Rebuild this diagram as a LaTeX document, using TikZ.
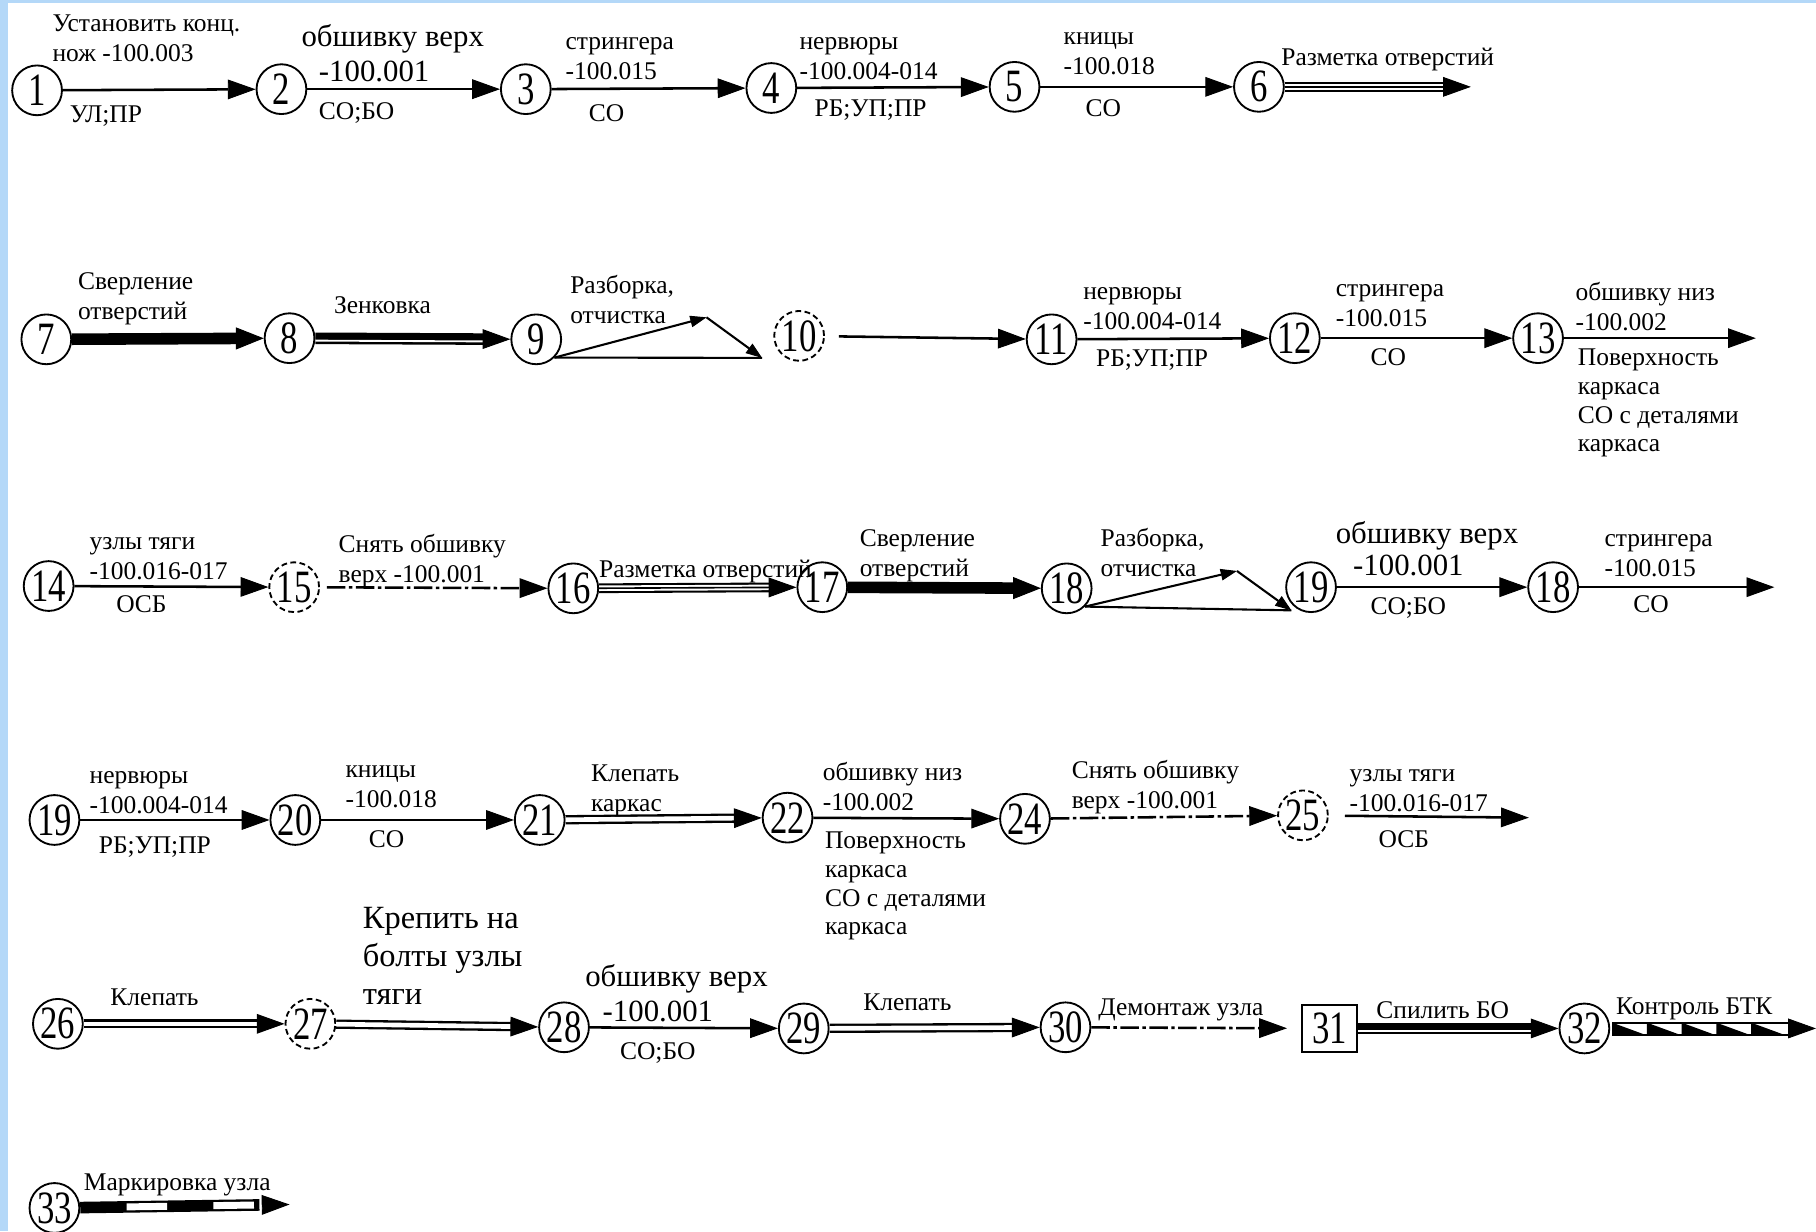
\documentclass[tikz,border=0pt]{standalone}
\usepackage{fontspec}
\setmainfont{Liberation Serif}
\newfontfamily\numfont[FakeStretch=0.75]{Liberation Serif}
\usetikzlibrary{arrows.meta, positioning}

\definecolor{edgeblue}{RGB}{180,216,248}

\tikzset{
  ev/.style={circle, draw, line width=0.8pt, minimum size=21.5pt, inner sep=0pt, font=\fontsize{20}{22}\numfont},
  evdash/.style={ev, dash pattern=on 2.5pt off 1.5pt},
  evbox/.style={rectangle, draw, line width=0.8pt, minimum width=24pt, minimum height=20pt, inner sep=0pt, font=\fontsize{20}{22}\numfont},
  txt/.style={anchor=north west, align=left, inner sep=0pt, font=\fontsize{11}{13}\selectfont, execute at begin node=\strut},
  txtfour/.style={txt, font=\fontsize{11}{12.4}\selectfont},
  txtbig/.style={txt, font=\fontsize{13.3}{14}\selectfont},
  txthuge/.style={txt, font=\fontsize{14}{16.5}\selectfont},
  head/.style={-{Triangle[length=12pt, width=8.5pt, line width=0.4pt]}},
  headonly/.style={postaction={tips, shorten >=0pt, head}},
  flow/.style={line width=1.1pt, head},
  drill/.style={line width=5pt, -{Triangle[length=12pt, width=9.5pt, line width=0.4pt]}},
  dashdot/.style={flow, dash pattern=on 8pt off 1.5pt on 1.5pt off 1.5pt},
  rework/.style={line width=0.9pt, -{Triangle[length=7pt, width=5pt, line width=0.4pt]}},
  dblline/.style={line width=1pt, double, double distance=2pt, shorten >=10pt, headonly},
  triline/.style={line width=0.9pt, double, double distance=2.4pt, shorten >=10pt, postaction={draw, line width=0.7pt}, headonly},
  csink/.style={line width=5pt, shorten >=10pt, postaction={draw=white, line width=0.8pt, transform canvas={yshift=-1pt}}, headonly},
  marking/.style={line width=5pt, shorten >=13pt, postaction={draw=white, line width=3pt, dash pattern=on 17.5pt off 20pt, dash phase=17.5pt}, headonly},
}

\begin{document}
\begin{tikzpicture}[x=0.5pt, y=-0.5pt]
\useasboundingbox (0,0) rectangle (1568,1063) ;
\fill[edgeblue] (0,0) rectangle (7,1063) ;
\fill[edgeblue] (0,0) rectangle (1568,3) ;

% row 1
\node[ev] at (32,78) (ev1) {1} ;
\node[ev] at (243,77) (ev2) {2} ;
\node[ev] at (454,77) (ev3) {3} ;
\node[ev] at (666,76) (ev4) {4} ;
\node[ev] at (876,75) (ev5) {5} ;
\node[ev] at (1087,75) (ev6) {6} ;
\coordinate (end6) at (1270,75) ;

\draw[flow] (ev1) -- (ev2) ;
\draw[flow] (ev2) -- (ev3) ;
\draw[flow] (ev3) -- (ev4) ;
\draw[flow] (ev4) -- (ev5) ;
\draw[flow] (ev5) -- (ev6) ;
\draw[triline] (ev6) -- (end6) ;

\node[txt] at (45,12) (txt1) {Установить конц.\\нож -100.003} ;
\node[txt] at (60,87) (txt2) {УЛ;ПР} ;
\node[txtbig] at (260,20) (txt3) {обшивку верх} ;
\node[txtbig] at (275,50) (txt3b) {-100.001} ;
\node[txt] at (275,85) (txt4) {СО;БО} ;
\node[txt] at (488,32) (txt5) {стрингера\\-100.015} ;
\node[txt] at (508,86) (txt6) {СО} ;
\node[txt] at (690,32) (txt7) {нервюры\\-100.004-014} ;
\node[txt] at (703,82) (txt8) {РБ;УП;ПР} ;
\node[txt] at (918,28) (txt9) {кницы\\-100.018} ;
\node[txt] at (937,82) (txt10) {СО} ;
\node[txt] at (1106,38) (txt11) {Разметка отверстий} ;

% row 2
\node[ev] at (40,293) (ev7) {7} ;
\node[ev] at (250,292) (ev8) {8} ;
\node[ev] at (463,293) (ev9) {9} ;
\node[evdash] at (690,290) (ev10) {10} ;
\node[ev] at (908,293) (ev11) {11} ;
\node[ev] at (1118,292) (ev12) {12} ;
\node[ev] at (1328,292) (ev13) {13} ;
\coordinate (end13) at (1516,292) ;
\coordinate (turn9) at (610,274) ;
\coordinate (back9) at (658,309) ;

\draw[drill] (ev7) -- (ev8) ;
\draw[csink] (ev8) -- (ev9) ;
\draw[rework] (ev9.-45) -- (turn9) ;
\draw[rework] (turn9) -- (back9) ;
\draw[line width=0.9pt] (ev9.-45) -- (back9) ;
\draw[flow, shorten <=6pt] (ev10) -- (ev11) ;
\draw[flow] (ev11) -- (ev12) ;
\draw[flow] (ev12) -- (ev13) ;
\draw[flow] (ev13) -- (end13) ;

\node[txt] at (67,235) (txt12) {Сверление\\отверстий} ;
\node[txt] at (288,252) (txt13) {Зенковка} ;
\node[txt] at (492,237) (txt14) {Разборка,\\отчистка} ;
\node[txt] at (935,248) (txt15) {нервюры\\-100.004-014} ;
\node[txt] at (946,298) (txt16) {РБ;УП;ПР} ;
\node[txt] at (1153,245) (txt17) {стрингера\\-100.015} ;
\node[txt] at (1183,297) (txt18) {СО} ;
\node[txt] at (1360,243) (txt19) {обшивку низ\\-100.002} ;
\node[txtfour] at (1362,301) (txt20) {Поверхность\\каркаса\\СО с деталями\\каркаса} ;

% row 3
\node[ev] at (42,506) (ev14) {14} ;
\node[evdash] at (254,507) (ev15) {15} ;
\node[ev] at (495,508) (ev16) {16} ;
\node[ev] at (710,507) (ev17) {17} ;
\node[ev] at (921,508) (ev18a) {18} ;
\node[ev] at (1132,507) (ev19a) {19} ;
\node[ev] at (1341,507) (ev18b) {18} ;
\coordinate (end18) at (1532,507) ;
\coordinate (turn18) at (1068,493) ;
\coordinate (back18) at (1115,527) ;

\draw[flow] (ev14) -- (ev15) ;
\draw[dashdot, shorten <=3pt] (ev15) -- (ev16) ;
\draw[triline] (ev16) -- (ev17) ;
\draw[drill] (ev17) -- (ev18a) ;
\draw[rework] (ev18a.-45) -- (turn18) ;
\draw[rework] (turn18) -- (back18) ;
\draw[line width=0.9pt] (ev18a.-45) -- (back18) ;
\draw[flow] (ev19a) -- (ev18b) ;
\draw[flow] (ev18b) -- (end18) ;

\node[txt] at (77,464) (txt21) {узлы тяги\\-100.016-017} ;
\node[txt] at (100,510) (txt22) {ОСБ} ;
\node[txt] at (292,461) (txt23) {Снять обшивку\\верх -100.001} ;
\node[txt] at (517,480) (txt24) {Разметка отверстий} ;
\node[txt] at (742,457) (txt25) {Сверление\\отверстий} ;
\node[txt] at (950,456) (txt26) {Разборка,\\отчистка} ;
\node[txtbig] at (1153,449) (txt27) {обшивку верх} ;
\node[txtbig] at (1168,477) (txt27b) {-100.001} ;
\node[txt] at (1183,512) (txt28) {СО;БО} ;
\node[txt] at (1385,461) (txt29) {стрингера\\-100.015} ;
\node[txt] at (1410,510) (txt30) {СО} ;

% row 4
\node[ev] at (47,708) (ev19b) {19} ;
\node[ev] at (255,708) (ev20) {20} ;
\node[ev] at (466,708) (ev21) {21} ;
\node[ev] at (680,706) (ev22) {22} ;
\node[ev] at (885,707) (ev24) {24} ;
\node[evdash] at (1125,704) (ev25) {25} ;
\coordinate (end25) at (1320,706) ;

\draw[flow] (ev19b) -- (ev20) ;
\draw[flow] (ev20) -- (ev21) ;
\draw[dblline] (ev21) -- (ev22) ;
\draw[flow] (ev22) -- (ev24) ;
\draw[dashdot] (ev24) -- (ev25) ;
\draw[flow, shorten <=7pt] (ev25) -- (end25) ;

\node[txt] at (77,666) (txt31) {нервюры\\-100.004-014} ;
\node[txt] at (85,718) (txt32) {РБ;УП;ПР} ;
\node[txt] at (298,661) (txt33) {кницы\\-100.018} ;
\node[txt] at (318,713) (txt34) {СО} ;
\node[txt] at (510,660) (txt35) {Клепать\\каркас} ;
\node[txt] at (710,658) (txt36) {обшивку низ\\-100.002} ;
\node[txtfour] at (712,718) (txt37) {Поверхность\\каркаса\\СО с деталями\\каркаса} ;
\node[txt] at (925,656) (txt38) {Снять обшивку\\верх -100.001} ;
\node[txt] at (1165,664) (txt39) {узлы тяги\\-100.016-017} ;
\node[txt] at (1190,713) (txt40) {ОСБ} ;

% row 5
\node[ev] at (50,884) (ev26) {26} ;
\node[evdash] at (268,884) (ev27) {27} ;
\node[ev] at (487,887) (ev28) {28} ;
\node[ev] at (694,888) (ev29) {29} ;
\node[ev] at (920,887) (ev30) {30} ;
\node[evbox] at (1148,888) (ev31) {31} ;
\node[ev] at (1368,888) (ev32) {32} ;
\coordinate (end32) at (1568,888) ;

\draw[dblline] (ev26) -- (ev27) ;
\draw[dblline] (ev27) -- (ev28) ;
\draw[flow] (ev28) -- (ev29) ;
\draw[dblline] (ev29) -- (ev30) ;
\draw[dashdot, shorten >=6pt] (ev30) -- (ev31) ;
\draw[csink] (ev31) -- (ev32) ;
\path[tips, head] (ev32) -- (end32) ;
\foreach \k in {0,...,4}
  \fill (1392+30*\k,883) -- (1422+30*\k,894) -- (1392+30*\k,894) -- cycle ;
\draw[line width=0.8pt] (1392,883) -- (1546,883) (1392,894) -- (1546,894) ;

\node[txt] at (95,850) (txt41) {Клепать} ;
\node[txthuge] at (313,783) (txt42) {Крепить на\\болты узлы\\тяги} ;
\node[txtbig] at (505,832) (txt43) {обшивку верх} ;
\node[txtbig] at (520,862) (txt43b) {-100.001} ;
\node[txt] at (535,896) (txt44) {СО;БО} ;
\node[txt] at (745,854) (txt45) {Клепать} ;
\node[txt] at (948,858) (txt46) {Демонтаж узла} ;
\node[txt] at (1188,861) (txt47) {Спилить БО} ;
\node[txt] at (1395,857) (txt48) {Контроль БТК} ;

% row 6
\node[ev] at (47,1043) (ev33) {33} ;
\coordinate (end33) at (250,1040) ;
\draw[marking] (ev33) -- (end33) ;
\node[txt] at (72,1009) (txt49) {Маркировка узла} ;
\end{tikzpicture}
\end{document}
